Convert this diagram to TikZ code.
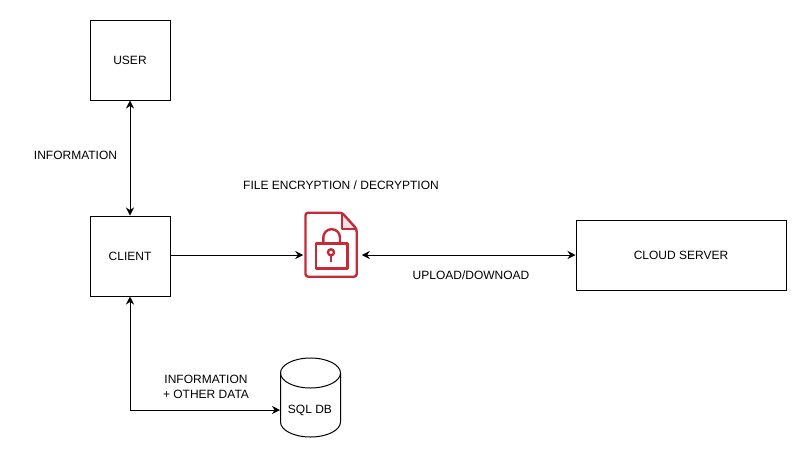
\documentclass[tikz,border=0pt]{standalone}
\usepackage{fontspec}
\setmainfont{Liberation Sans}
\usetikzlibrary{arrows.meta}
\definecolor{lockred}{RGB}{196,42,55}
\definecolor{foldpink}{RGB}{248,225,228}
\tikzset{
  box/.style={draw, line width=0.75pt, minimum width=60pt, minimum height=60pt, inner sep=0pt},
  lbl/.style={font=\fontsize{9}{11}\selectfont, align=center, inner sep=0pt},
  link/.style={draw, line width=0.65pt, >={Stealth[length=6pt,width=6pt]}},
  lockline/.style={draw=lockred, line width=1.8pt, line join=round}
}
\begin{document}
\begin{tikzpicture}[x=0.75pt, y=-0.75pt]
  \useasboundingbox (0,0) rectangle (807,458);

  \node[box, lbl] (user) at (130,60) {USER};
  \node[box, lbl] (client) at (130,256) {CLIENT};
  \node[box, lbl, minimum width=157.5pt, minimum height=52.5pt] (cloud) at (681,255) {CLOUD SERVER};

  % database drum
  \draw[line width=0.75pt] (310.5,373) ellipse (22.5pt and 11.25pt);
  \draw[line width=0.75pt] (280.5,373) -- (280.5,422) arc[start angle=180, end angle=360, x radius=22.5pt, y radius=11.25pt] -- (340.5,373);
  \node[lbl] (db) at (310,410) {SQL DB};

  % file with the lock
  \node[minimum width=43.5pt, minimum height=48pt, inner sep=0pt] (lockfile) at (332.5,255) {};
  \fill[foldpink] (342,213) -- (342,229) -- (356.7,229) -- cycle;
  \draw[lockline, rounded corners=2pt] (305.5,212.7) -- (342,212.7) -- (356.7,229) -- (356.7,276.7) -- (305.5,276.7) -- cycle;
  \draw[lockline] (342,212.7) -- (342,229) -- (356.7,229);
  \draw[lockline] (316,243.3) rectangle (347.3,268.3);
  \draw[lockline] (323.3,243.3) -- (323.3,237.5) arc[start angle=180, end angle=0, radius=6.25pt] -- (340,243.3);
  \draw[lockline] (331,252.3) circle (2.25pt);
  \draw[lockline] (331,255.3) -- (331,261.7);

  \coordinate (dbin) at (280,410);
  \draw[link, <->] (user) -- (client);
  \draw[link, ->] (client.east |- lockfile) -- (lockfile);
  \draw[link, <->] (lockfile) -- (cloud);
  \draw[link, <->] (client) |- (dbin);

  \node[lbl] (infolabel) at (75.5,155) {INFORMATION};
  \node[lbl] (cryptlabel) at (341,185) {FILE ENCRYPTION / DECRYPTION};
  \node[lbl] (uploadlabel) at (471,275) {UPLOAD/DOWNOAD};
  \node[lbl] (datalabel) at (206,387) {INFORMATION\\+ OTHER DATA};
\end{tikzpicture}
\end{document}
